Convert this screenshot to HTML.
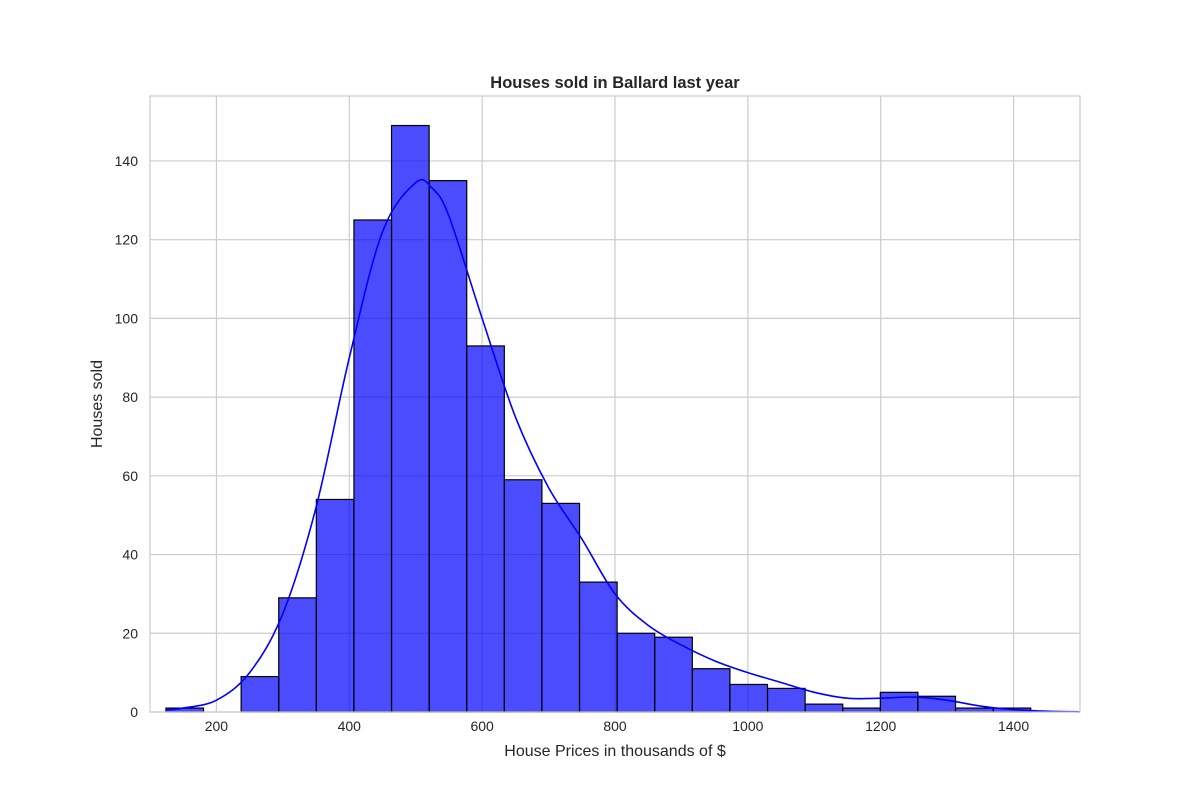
<!DOCTYPE html>
<html><head><meta charset="utf-8"><style>
body{margin:0;background:#fff;}
svg text{font-family:"Liberation Sans",Arial,sans-serif;fill:#262626;}
</style></head><body>
<svg id="chart" width="1200" height="800" xmlns="http://www.w3.org/2000/svg">
<rect width="1200" height="800" fill="#fff"/>
<g id="grid"></g><g id="bars"></g><g id="kde"></g><g id="ticks"></g>
<rect x="150" y="96" width="930" height="616" fill="none" stroke="#cccccc" stroke-width="1.2"/>
<text x="615" y="88" text-anchor="middle" font-size="16.5" font-weight="bold">Houses sold in Ballard last year</text>
<text x="615" y="756" text-anchor="middle" font-size="16">House Prices in thousands of $</text>
<text x="102" y="404" text-anchor="middle" font-size="16" transform="rotate(-90 102 404)">Houses sold</text>
</svg>
<script>
const binStart = 124;
const binWidth = 56.6;
const counts = [1,0,9,29,54,125,149,135,93,59,53,33,20,19,11,7,6,2,1,5,4,1,1];
const xTicks = [200,400,600,800,1000,1200,1400];
const yTicks = [0,20,40,60,80,100,120,140];
const kdeX = [124,150,200,250,300,350,400,450,500,525,550,600,650,700,750,800,850,900,950,1000,1050,1100,1150,1200,1250,1300,1350,1400,1450,1500];
const kdeY = [0.5,1,3,10,25,52,90,122,134.5,133,126,100,75,57,44,30,22,17,13,10,7.5,5,3.5,3.5,3.8,3,1.5,0.6,0.2,0.05];
const X0=100,X1=1500,Y0=0,Y1=156.5;
const L=150,R=1080,T=96,B=712;
const sx=v=>L+(v-X0)/(X1-X0)*(R-L);
const sy=v=>B-(v-Y0)/(Y1-Y0)*(B-T);
const NS="http://www.w3.org/2000/svg";
function mk(tag,attrs,parent){const e=document.createElementNS(NS,tag);for(const k in attrs)e.setAttribute(k,attrs[k]);document.getElementById(parent).appendChild(e);return e;}
xTicks.forEach(t=>{
  const l=mk('line',{x1:sx(t),x2:sx(t),y1:T,y2:B,stroke:'#cccccc','stroke-width':1.2},'grid');
  
  
  const tx=mk('text',{x:sx(t),y:B+19,'text-anchor':'middle','font-size':14},'ticks');
  tx.textContent=t;
  
  
});
yTicks.forEach(t=>{
  const l=mk('line',{x1:L,x2:R,y1:sy(t),y2:sy(t),stroke:'#cccccc','stroke-width':1.2},'grid');
  
  
  const tx=mk('text',{x:L-12,y:sy(t)+5,'text-anchor':'end','font-size':14},'ticks');
  tx.textContent=t;
  
  
});
counts.forEach((c,i)=>{
  if(c<=0)return;
  const a=binStart+i*binWidth,b=a+binWidth;
  const r=mk('rect',{x:sx(a),y:sy(c),width:sx(b)-sx(a),height:sy(0)-sy(c),fill:'rgba(0,0,255,0.7)',stroke:'#000','stroke-width':1.2},'bars');
  
  
});
const pts=kdeX.map((x,i)=>[sx(x),sy(kdeY[i])]);
let d='M'+pts[0][0]+','+pts[0][1];
for(let i=0;i<pts.length-1;i++){
  const p0=pts[Math.max(0,i-1)],p1=pts[i],p2=pts[i+1],p3=pts[Math.min(pts.length-1,i+2)];
  const c1=[p1[0]+(p2[0]-p0[0])/6,p1[1]+(p2[1]-p0[1])/6];
  const c2=[p2[0]-(p3[0]-p1[0])/6,p2[1]-(p3[1]-p1[1])/6];
  d+=' C'+c1+' '+c2+' '+p2;
}
const k=mk('path',{d:d,fill:'none',stroke:'#0000ff','stroke-width':1.6},'kde');


</script>
</body></html>
